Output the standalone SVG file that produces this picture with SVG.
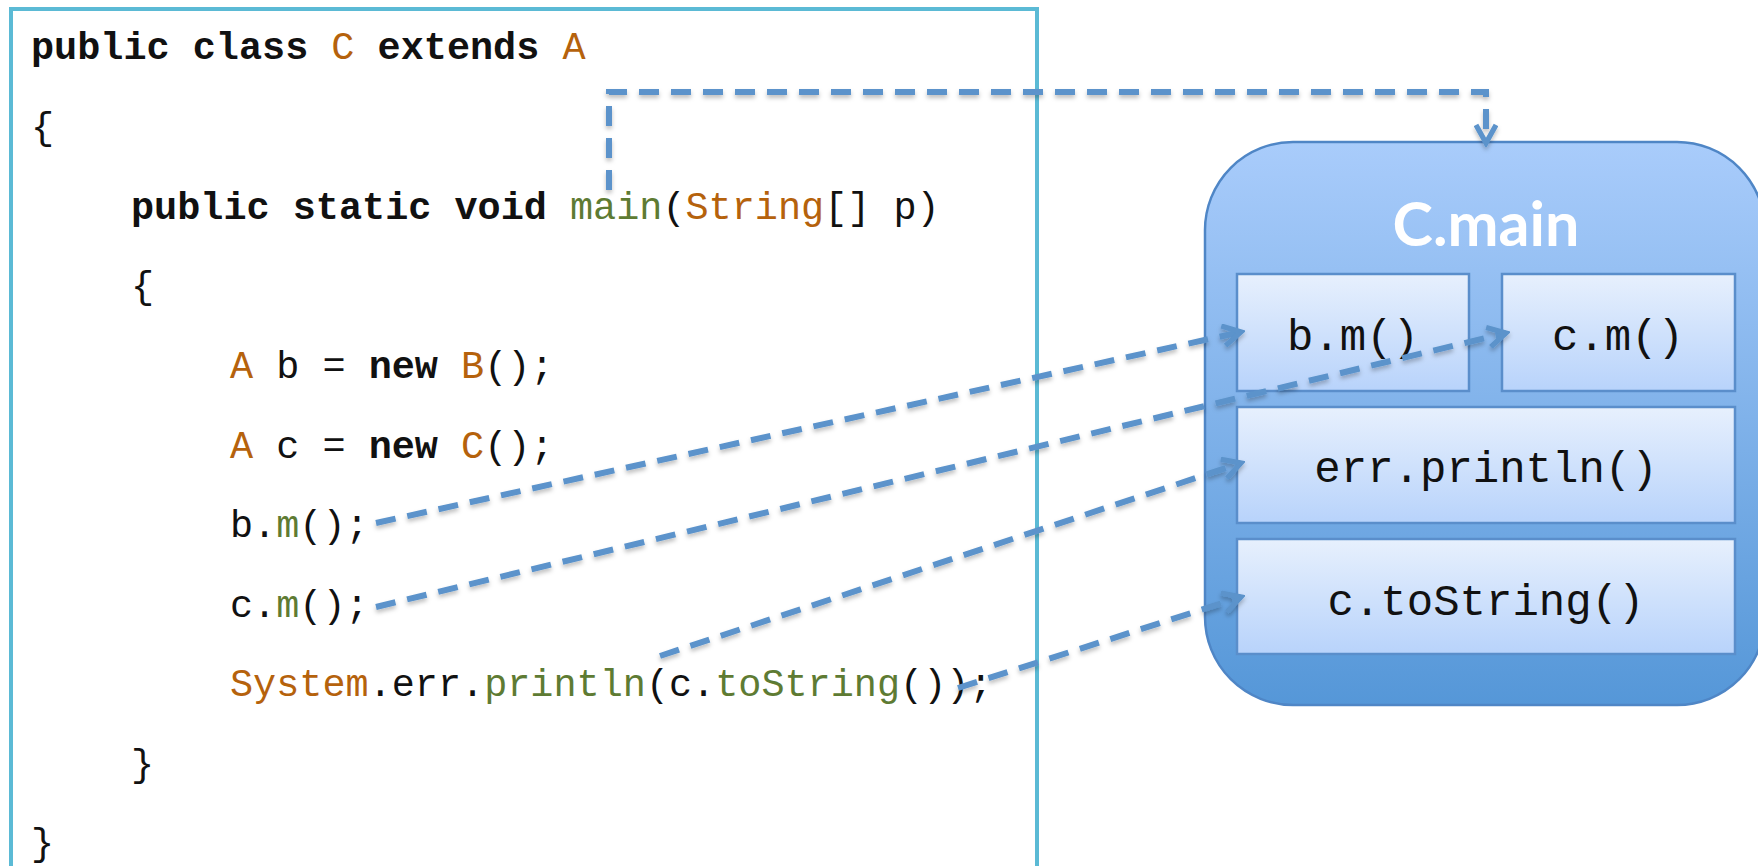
<svg xmlns="http://www.w3.org/2000/svg" width="1758" height="866" viewBox="0 0 1758 866">
<style>
.code{font-family:"Liberation Mono","DejaVu Sans Mono",monospace;font-size:38.5px;fill:#111}
.kw{font-weight:bold}
.ty{fill:#b5620c}
.fn{fill:#5e7b33}
.box{stroke:#5a8ecb;stroke-width:2.5;fill:url(#boxg)}
.lbl{font-family:"Liberation Mono","DejaVu Sans Mono",monospace;font-size:44px;fill:#111;text-anchor:middle}
.conn{fill:none;stroke:#5b93cb;stroke-width:6;stroke-dasharray:20 12;filter:url(#sh)}
</style>
<defs>
<linearGradient id="bigg" x1="0" y1="0" x2="0" y2="1">
<stop offset="0" stop-color="#a9ccfb"/>
<stop offset="1" stop-color="#5597d8"/>
</linearGradient>
<linearGradient id="boxg" x1="0" y1="0" x2="0" y2="1">
<stop offset="0" stop-color="#e7f0fd"/>
<stop offset="1" stop-color="#b8d3fb"/>
</linearGradient>
<marker id="arr" viewBox="0 0 12 12" refX="10" refY="6" markerWidth="24" markerHeight="24" markerUnits="userSpaceOnUse" orient="auto">
<path d="M1,1 L10,6 L1,11" fill="none" stroke="#5b93cb" stroke-width="2.6"/>
</marker>
<filter id="sh" x="-10%" y="-10%" width="120%" height="130%">
<feDropShadow dx="0" dy="3" stdDeviation="2" flood-color="#000" flood-opacity="0.25"/>
</filter>
</defs>
<rect width="1758" height="866" fill="#fff"/>
<g id="code">
<rect x="11" y="9" width="1026" height="900" fill="#fff" stroke="#5bbad5" stroke-width="4"/>
<text class="code" x="31" y="59"><tspan class="kw">public class</tspan> <tspan class="ty">C</tspan> <tspan class="kw">extends</tspan> <tspan class="ty">A</tspan></text>
<text class="code" x="31" y="139">{</text>
<text class="code" x="131" y="219"><tspan class="kw">public static void</tspan> <tspan class="fn">main</tspan>(<tspan class="ty">String</tspan>[] p)</text>
<text class="code" x="131" y="298">{</text>
<text class="code" x="230" y="378"><tspan class="ty">A</tspan> b = <tspan class="kw">new</tspan> <tspan class="ty">B</tspan>();</text>
<text class="code" x="230" y="458"><tspan class="ty">A</tspan> c = <tspan class="kw">new</tspan> <tspan class="ty">C</tspan>();</text>
<text class="code" x="230" y="537">b.<tspan class="fn">m</tspan>();</text>
<text class="code" x="230" y="617">c.<tspan class="fn">m</tspan>();</text>
<text class="code" x="230" y="696"><tspan class="ty">System</tspan>.err.<tspan class="fn">println</tspan>(c.<tspan class="fn">toString</tspan>());</text>
<text class="code" x="131" y="776">}</text>
<text class="code" x="31" y="855">}</text>
</g>
<g id="cmain">
<rect x="1205" y="142" width="560" height="563" rx="88" ry="88" fill="url(#bigg)" stroke="#4f86c6" stroke-width="2.5"/>
<text x="1486" y="246" font-family="Lato,'Open Sans',sans-serif" font-weight="bold" font-size="61" fill="#fff" text-anchor="middle">C.main</text>
</g>
<g id="bm">
<rect class="box" x="1237" y="274" width="232" height="117"/>
<text class="lbl" x="1353" y="350">b.m()</text>
</g>
<g id="cm">
<rect class="box" x="1502" y="274" width="233" height="117"/>
<text class="lbl" x="1618" y="350">c.m()</text>
</g>
<g id="errprintln">
<rect class="box" x="1237" y="407" width="498" height="116"/>
<text class="lbl" x="1486" y="482">err.println()</text>
</g>
<g id="ctostring">
<rect class="box" x="1237" y="539" width="498" height="115"/>
<text class="lbl" x="1486" y="615">c.toString()</text>
</g>
<g id="connectors">
<path class="conn" d="M609,190 L609,92 L1486,92 L1486,143" marker-end="url(#arr)"/>
<path class="conn" d="M376,523 L1241,332" marker-end="url(#arr)"/>
<path class="conn" d="M376,607 L1506,333" marker-end="url(#arr)"/>
<path class="conn" d="M660,656 L1241,463" marker-end="url(#arr)"/>
<path class="conn" d="M958,688 L1241,597" marker-end="url(#arr)"/>
</g>
</svg>
